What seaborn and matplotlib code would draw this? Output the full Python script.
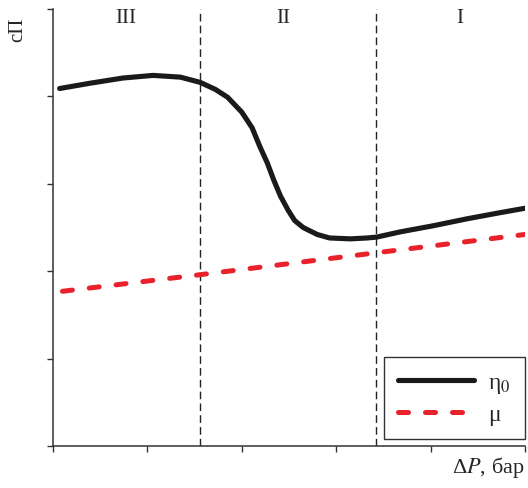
import numpy as np
import pandas as pd
import matplotlib.pyplot as plt
import seaborn as sns

# ── Data ──────────────────────────────────────────────────────────────────────

ETA_X = [0.07, 0.39, 0.74, 1.06, 1.35, 1.56, 1.72, 1.85, 2.00, 2.11, 2.19,
         2.27, 2.34, 2.41, 2.49, 2.56, 2.65, 2.80, 2.93, 3.15, 3.33, 3.43,
         3.68, 4.03, 4.39, 4.74, 5.00]
ETA_Y = [4.09, 4.15, 4.21, 4.24, 4.22, 4.16, 4.08, 3.99, 3.82, 3.64, 3.43,
         3.24, 3.04, 2.86, 2.70, 2.58, 2.50, 2.42, 2.38, 2.37, 2.38, 2.39,
         2.45, 2.52, 2.60, 2.67, 2.72]

MU_X = [0.10, 1.56, 3.42, 5.00]
MU_Y = [1.77, 1.96, 2.21, 2.42]

ZONE_BOUNDS = [1.56, 3.42]
ZONE_LABELS = ["III", "II", "I"]
ZONE_LABEL_X = [0.77, 2.44, 4.31]

TICKS = [0, 1, 2, 3, 4, 5]

RED = "#e8212b"

# ── Style ─────────────────────────────────────────────────────────────────────

sns.set_style("ticks")
plt.rcParams["font.family"] = ["Liberation Serif", "DejaVu Serif"]
plt.rcParams["mathtext.fontset"] = "stix"

eta_df = pd.DataFrame({"x": ETA_X, "y": ETA_Y})
mu_df = pd.DataFrame({"x": MU_X, "y": MU_Y})

fig = plt.figure(figsize=(5.28, 4.89), dpi=100)
ax = fig.add_axes([0.1004, 0.0859, 0.8937, 0.8937])

sns.lineplot(data=eta_df, x="x", y="y", ax=ax, color="#1a1a1a", lw=3.7,
             label=r"η$_0$", solid_capstyle="round", solid_joinstyle="round")
sns.lineplot(data=mu_df, x="x", y="y", ax=ax, color=RED, lw=3.6,
             label="μ", dashes=False)
ax.lines[-1].set_dashes((2.0, 3.4))
ax.lines[-1].set_dash_capstyle("round")

for xb in ZONE_BOUNDS:
    ax.axvline(xb, color="#222222", lw=1.0, dashes=(5.5, 3.0), zorder=1)

for lab, xl in zip(ZONE_LABELS, ZONE_LABEL_X):
    ax.text(xl, 4.9, lab, ha="center", va="center", fontsize=15)

ax.set_xlim(0, 5)
ax.set_ylim(0, 5)
ax.set_xticks(TICKS)
ax.set_yticks(TICKS)
ax.set_xticklabels([])
ax.set_yticklabels([])
ax.tick_params(length=4, width=1.0, color="#333333")
sns.despine(ax=ax)
for s in ["left", "bottom"]:
    ax.spines[s].set_linewidth(1.1)
    ax.spines[s].set_color("#333333")

ax.set_xlabel("")
ax.set_ylabel("")
fig.text(0.034, 0.94, "сП", rotation=90, ha="center", va="center", fontsize=15)
fig.text(0.993, 0.043, r"Δ$P$, бар", ha="right", va="center", fontsize=16)

leg = ax.legend(loc="lower right", bbox_to_anchor=(1.0, 0.016),
                handlelength=3.2, fontsize=17, fancybox=False,
                frameon=True, framealpha=1, edgecolor="#333333",
                borderpad=0.6, labelspacing=0.35, handletextpad=0.6,
                borderaxespad=0)
leg.get_frame().set_linewidth(1.0)

fig.savefig("out.png", dpi=100)
